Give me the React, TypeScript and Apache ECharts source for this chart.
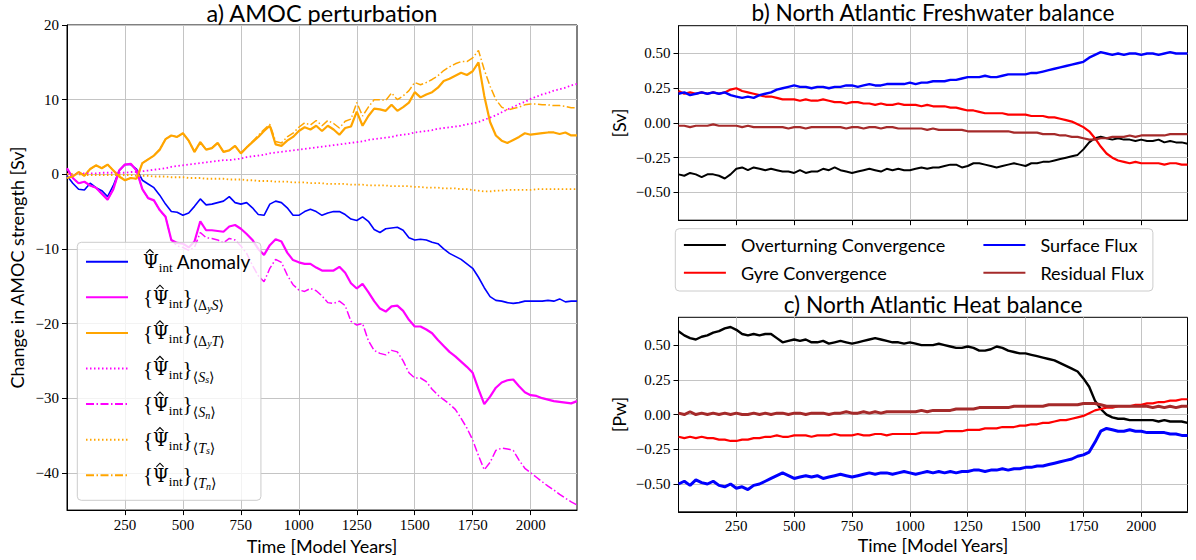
import React, { useEffect, useRef } from 'react';
import * as echarts from 'echarts';

const YEARS = Array.from({ length: 89 }, (_, i) => i * 25);
const X_TICKS = [250, 500, 750, 1000, 1250, 1500, 1750, 2000];
const Y_TICKS_A = [-40, -30, -20, -10, 0, 10, 20];
const Y_TICKS_BC = [-0.5, -0.25, 0, 0.25, 0.5];

// a) AMOC perturbation [Sv]
const A_ANOM = [
  -0.2, -1.2, -2.0, -2.1, -1.2, -1.8, -2.2, -3.0, -1.5, 0.5,
  1.3, 1.3, 0.7, -0.8, -1.3, -1.8, -2.8, -4.0, -5.0, -5.1,
  -5.5, -5.2, -4.3, -3.3, -4.1, -4.0, -3.8, -3.6, -3.0, -3.8,
  -4.0, -3.8, -4.5, -5.4, -5.5, -4.0, -3.6, -3.8, -4.5, -5.5,
  -5.5, -5.0, -4.7, -5.0, -5.5, -5.2, -5.0, -5.0, -5.4, -6.0,
  -6.2, -5.7, -6.3, -7.4, -7.8, -7.3, -7.2, -7.1, -7.5, -8.5,
  -8.8, -8.7, -8.8, -9.1, -9.3, -10.0, -10.6, -11.0, -11.4, -12.0,
  -12.6, -13.8, -15.2, -16.4, -16.9, -17.0, -17.2, -17.3, -17.2, -17.0,
  -17.0, -17.0, -17.0, -16.9, -17.0, -16.7, -17.1, -17.0, -17.0,
];
const A_DYS = [
  0.8, -0.5, -1.2, -1.0, -1.5, -1.8, -2.6, -3.4, -2.0, 0.5,
  1.3, 1.4, 0.5, -2.0, -3.2, -3.5, -4.8, -5.7, -8.8, -9.2,
  -9.3, -9.8, -9.0, -6.3, -7.5, -7.5, -7.6, -7.7, -7.0, -6.8,
  -7.3, -8.0, -8.8, -10.0, -10.8, -9.5, -8.7, -9.0, -10.5, -11.5,
  -11.8, -12.0, -12.0, -12.5, -12.9, -12.9, -12.9, -12.4, -13.2, -14.6,
  -15.3, -14.7, -15.8, -17.0, -18.0, -18.4, -17.7, -17.6, -18.3, -19.5,
  -20.4, -20.4, -20.8, -21.3, -22.2, -23.0, -23.8, -24.4, -25.1, -25.8,
  -26.6, -28.8, -30.8, -29.8, -28.6, -27.9, -27.6, -27.5, -28.4, -29.2,
  -29.6, -29.7, -30.0, -30.2, -30.4, -30.5, -30.6, -30.7, -30.4,
];
const A_DYT = [
  -0.5, -0.3, 0.3, -0.2, 0.7, 1.2, 0.8, 1.3, 0.5, -0.3,
  -0.8, -0.5, -0.6, 1.5, 2.0, 2.5, 3.3, 4.7, 5.2, 5.0,
  5.5, 4.5, 3.0, 4.3, 3.3, 3.5, 4.2, 3.0, 3.2, 3.8,
  2.8, 3.6, 4.3, 5.0, 5.8, 6.5, 4.0, 3.8, 4.5, 5.0,
  5.8, 6.3, 6.0, 6.5, 5.8, 6.5, 6.0, 5.3, 6.2, 6.4,
  8.4, 6.5, 7.8, 8.8, 8.7, 8.5, 9.3, 8.5, 9.0, 9.6,
  11.0, 10.3, 10.7, 11.0, 11.6, 12.5, 12.8, 13.2, 13.6, 13.3,
  13.8, 15.0, 10.5, 7.0, 5.2, 4.5, 4.2, 4.6, 5.0, 5.5,
  5.3, 5.4, 5.5, 5.6, 5.6, 5.4, 5.6, 5.2, 5.2,
];
const A_SS = [
  0.0, 0.0, 0.1, 0.1, 0.1, 0.1, 0.2, 0.2, 0.2, 0.2,
  0.2, 0.3, 0.3, 0.4, 0.5, 0.6, 0.7, 0.8, 1.0, 1.1,
  1.2, 1.3, 1.4, 1.5, 1.6, 1.7, 1.8, 1.9, 1.9, 2.0,
  2.1, 2.3, 2.4, 2.5, 2.6, 2.8, 2.9, 3.0, 3.1, 3.2,
  3.3, 3.4, 3.5, 3.6, 3.7, 3.8, 3.9, 4.0, 4.1, 4.2,
  4.3, 4.4, 4.6, 4.7, 4.8, 4.9, 5.0, 5.2, 5.3, 5.4,
  5.6, 5.7, 5.8, 5.9, 6.1, 6.2, 6.3, 6.4, 6.5, 6.7,
  6.8, 7.0, 7.3, 7.6, 7.9, 8.3, 8.7, 9.0, 9.4, 9.7,
  10.1, 10.4, 10.7, 10.9, 11.2, 11.4, 11.6, 11.9, 12.1,
];
const A_SN = [
  0.8, -0.5, -1.2, -1.0, -1.5, -1.8, -2.6, -3.4, -2.0, 0.5,
  1.3, 1.4, 0.5, -2.0, -3.2, -3.5, -4.8, -5.7, -8.8, -9.6,
  -9.8, -10.2, -9.8, -7.8, -8.5, -8.6, -8.8, -9.2, -8.6, -8.8,
  -9.6, -10.6, -12.2, -13.6, -14.4, -12.6, -11.4, -11.8, -13.5, -14.8,
  -15.5, -15.7, -15.3, -15.6, -16.3, -17.2, -17.3, -17.0, -17.6, -19.7,
  -20.2, -20.0, -22.3, -23.6, -24.0, -24.2, -23.6, -23.8, -25.0, -26.6,
  -27.3, -27.3, -27.8, -28.8, -29.6, -30.2, -30.8, -31.5, -32.7, -34.0,
  -35.6, -37.7, -39.6, -38.6, -37.0, -36.7, -36.8, -37.0, -38.3, -39.4,
  -40.0, -40.6, -41.2, -41.8, -42.3, -42.9, -43.4, -43.9, -44.3,
];
const A_TS = [
  0.0, 0.0, 0.0, -0.1, -0.1, -0.1, -0.1, -0.1, -0.1, -0.1,
  -0.1, -0.1, -0.2, -0.2, -0.2, -0.3, -0.3, -0.3, -0.4, -0.4,
  -0.4, -0.5, -0.5, -0.5, -0.6, -0.6, -0.6, -0.6, -0.7, -0.7,
  -0.7, -0.8, -0.8, -0.9, -0.9, -0.9, -1.0, -1.0, -1.0, -1.1,
  -1.1, -1.1, -1.2, -1.2, -1.2, -1.3, -1.3, -1.3, -1.3, -1.4,
  -1.4, -1.4, -1.5, -1.5, -1.5, -1.5, -1.6, -1.6, -1.6, -1.6,
  -1.7, -1.7, -1.8, -1.8, -1.8, -1.9, -1.9, -1.9, -2.0, -2.0,
  -2.1, -2.2, -2.3, -2.3, -2.2, -2.2, -2.1, -2.1, -2.1, -2.1,
  -2.1, -2.0, -2.0, -2.0, -2.0, -2.0, -2.0, -2.0, -2.0,
];
const A_TN = [
  -0.5, -0.3, 0.3, -0.2, 0.7, 1.2, 0.8, 1.3, 0.5, -0.3,
  -0.8, -0.5, -0.6, 1.5, 2.0, 2.5, 3.3, 4.7, 5.2, 5.0,
  5.5, 4.5, 3.0, 4.3, 3.3, 3.5, 4.2, 3.0, 3.2, 3.8,
  2.8, 3.6, 4.4, 5.2, 6.0, 6.7, 4.4, 4.2, 5.0, 5.5,
  6.3, 6.9, 6.6, 7.2, 6.5, 7.2, 6.8, 6.2, 7.1, 7.4,
  9.6, 7.8, 9.0, 10.0, 10.0, 9.9, 10.9, 10.0, 10.5, 11.2,
  12.3, 12.0, 12.3, 12.7, 13.2, 13.9, 14.4, 14.8, 15.1, 15.1,
  15.6, 16.6, 14.0, 11.8, 10.0, 9.0, 8.6, 8.8, 9.0, 9.3,
  9.4, 9.4, 9.3, 9.3, 9.2, 9.2, 9.1, 8.9, 8.9,
];

// b) North Atlantic Freshwater balance [Sv]
const FW_OVT = [
  -0.37, -0.38, -0.36, -0.37, -0.39, -0.37, -0.37, -0.38, -0.40, -0.37,
  -0.33, -0.32, -0.34, -0.32, -0.33, -0.34, -0.33, -0.34, -0.35, -0.35,
  -0.36, -0.34, -0.36, -0.35, -0.35, -0.33, -0.34, -0.32, -0.34, -0.35,
  -0.36, -0.35, -0.34, -0.33, -0.34, -0.35, -0.33, -0.34, -0.33, -0.34,
  -0.34, -0.33, -0.32, -0.33, -0.32, -0.32, -0.31, -0.30, -0.30, -0.32,
  -0.31, -0.29, -0.29, -0.30, -0.31, -0.32, -0.31, -0.30, -0.29, -0.30,
  -0.31, -0.29, -0.29, -0.28, -0.28, -0.27, -0.26, -0.25, -0.24, -0.23,
  -0.19, -0.14, -0.11, -0.10, -0.11, -0.12, -0.11, -0.12, -0.12, -0.13,
  -0.12, -0.13, -0.13, -0.12, -0.14, -0.13, -0.14, -0.14, -0.15,
];
const FW_GYRE = [
  0.23, 0.21, 0.22, 0.21, 0.22, 0.21, 0.22, 0.21, 0.22, 0.24,
  0.25, 0.23, 0.22, 0.21, 0.20, 0.19, 0.19, 0.18, 0.17, 0.17,
  0.17, 0.16, 0.17, 0.16, 0.16, 0.17, 0.16, 0.15, 0.15, 0.14,
  0.15, 0.15, 0.14, 0.14, 0.13, 0.14, 0.13, 0.13, 0.14, 0.13,
  0.13, 0.13, 0.12, 0.13, 0.12, 0.12, 0.12, 0.11, 0.11, 0.10,
  0.09, 0.09, 0.08, 0.07, 0.07, 0.07, 0.07, 0.06, 0.06, 0.06,
  0.06, 0.05, 0.05, 0.05, 0.04, 0.04, 0.03, 0.02, 0.01, -0.01,
  -0.03, -0.06, -0.11, -0.17, -0.22, -0.25, -0.27, -0.28, -0.29, -0.28,
  -0.29, -0.29, -0.29, -0.29, -0.30, -0.29, -0.29, -0.30, -0.30,
];
const FW_SURF = [
  0.21, 0.22, 0.20, 0.21, 0.22, 0.21, 0.22, 0.21, 0.22, 0.20,
  0.19, 0.18, 0.19, 0.18, 0.20, 0.21, 0.22, 0.24, 0.25, 0.26,
  0.27, 0.26, 0.26, 0.25, 0.26, 0.26, 0.25, 0.26, 0.26, 0.27,
  0.27, 0.26, 0.27, 0.28, 0.27, 0.27, 0.28, 0.28, 0.28, 0.28,
  0.29, 0.28, 0.29, 0.29, 0.30, 0.30, 0.30, 0.31, 0.31, 0.32,
  0.33, 0.33, 0.33, 0.34, 0.33, 0.33, 0.34, 0.35, 0.35, 0.35,
  0.35, 0.36, 0.36, 0.37, 0.38, 0.39, 0.40, 0.41, 0.42, 0.43,
  0.44, 0.47, 0.49, 0.51, 0.50, 0.49, 0.50, 0.49, 0.50, 0.50,
  0.49, 0.50, 0.50, 0.49, 0.50, 0.51, 0.50, 0.50, 0.50,
];
const FW_RES = [
  -0.02, -0.02, -0.03, -0.02, -0.02, -0.02, -0.01, -0.02, -0.02, -0.02,
  -0.02, -0.03, -0.02, -0.03, -0.03, -0.03, -0.03, -0.03, -0.03, -0.04,
  -0.03, -0.03, -0.04, -0.03, -0.03, -0.03, -0.03, -0.03, -0.03, -0.04,
  -0.03, -0.03, -0.04, -0.03, -0.03, -0.04, -0.03, -0.03, -0.04, -0.04,
  -0.04, -0.04, -0.04, -0.05, -0.04, -0.05, -0.05, -0.05, -0.05, -0.05,
  -0.06, -0.06, -0.06, -0.06, -0.06, -0.06, -0.06, -0.06, -0.07, -0.07,
  -0.07, -0.07, -0.07, -0.08, -0.08, -0.08, -0.09, -0.09, -0.10, -0.10,
  -0.11, -0.12, -0.12, -0.11, -0.11, -0.10, -0.10, -0.10, -0.09, -0.10,
  -0.09, -0.09, -0.09, -0.09, -0.09, -0.08, -0.08, -0.08, -0.08,
];

// c) North Atlantic Heat balance [Pw]
const HT_OVT = [
  0.60, 0.57, 0.55, 0.54, 0.56, 0.57, 0.59, 0.60, 0.62, 0.63,
  0.61, 0.58, 0.57, 0.58, 0.57, 0.58, 0.58, 0.55, 0.52, 0.53,
  0.54, 0.53, 0.54, 0.52, 0.52, 0.53, 0.51, 0.52, 0.53, 0.52,
  0.51, 0.52, 0.53, 0.54, 0.55, 0.54, 0.53, 0.52, 0.52, 0.51,
  0.52, 0.51, 0.50, 0.50, 0.50, 0.51, 0.50, 0.49, 0.48, 0.48,
  0.49, 0.48, 0.46, 0.46, 0.47, 0.49, 0.48, 0.46, 0.45, 0.44,
  0.44, 0.43, 0.42, 0.41, 0.40, 0.39, 0.37, 0.35, 0.33, 0.31,
  0.26, 0.20, 0.10, 0.04, 0.00, -0.02, -0.03, -0.03, -0.04, -0.04,
  -0.04, -0.04, -0.04, -0.05, -0.04, -0.05, -0.05, -0.05, -0.06,
];
const HT_GYRE = [
  -0.16, -0.17, -0.16, -0.17, -0.16, -0.17, -0.17, -0.18, -0.18, -0.19,
  -0.19, -0.18, -0.18, -0.17, -0.17, -0.16, -0.16, -0.15, -0.16, -0.16,
  -0.15, -0.15, -0.15, -0.16, -0.15, -0.15, -0.15, -0.14, -0.15, -0.15,
  -0.15, -0.14, -0.15, -0.15, -0.14, -0.14, -0.15, -0.14, -0.14, -0.14,
  -0.14, -0.14, -0.13, -0.13, -0.13, -0.13, -0.12, -0.12, -0.12, -0.12,
  -0.11, -0.11, -0.11, -0.10, -0.10, -0.10, -0.09, -0.09, -0.09, -0.08,
  -0.08, -0.07, -0.07, -0.06, -0.06, -0.05, -0.04, -0.04, -0.03, -0.02,
  -0.01, 0.01, 0.03, 0.04, 0.05, 0.05, 0.06, 0.06, 0.06, 0.07,
  0.07, 0.08, 0.08, 0.09, 0.09, 0.10, 0.10, 0.11, 0.11,
];
const HT_SURF = [
  -0.50, -0.48, -0.51, -0.47, -0.49, -0.50, -0.48, -0.51, -0.52, -0.50,
  -0.53, -0.52, -0.54, -0.51, -0.50, -0.48, -0.46, -0.44, -0.42, -0.44,
  -0.46, -0.45, -0.44, -0.45, -0.44, -0.46, -0.45, -0.44, -0.43, -0.44,
  -0.45, -0.44, -0.43, -0.42, -0.43, -0.42, -0.42, -0.43, -0.42, -0.41,
  -0.42, -0.43, -0.42, -0.41, -0.42, -0.41, -0.42, -0.41, -0.42, -0.41,
  -0.41, -0.40, -0.40, -0.41, -0.40, -0.40, -0.39, -0.40, -0.39, -0.39,
  -0.38, -0.38, -0.37, -0.37, -0.36, -0.35, -0.34, -0.33, -0.32, -0.30,
  -0.29, -0.27, -0.20, -0.12, -0.10, -0.11, -0.12, -0.12, -0.11, -0.12,
  -0.12, -0.13, -0.13, -0.13, -0.13, -0.14, -0.14, -0.15, -0.15,
];
const HT_RES = [
  0.01, 0.00, 0.02, 0.00, 0.01, 0.00, 0.01, 0.00, 0.01, 0.00,
  0.01, 0.00, 0.00, 0.01, 0.00, 0.01, 0.00, 0.01, 0.01, 0.00,
  0.01, 0.01, 0.00, 0.01, 0.01, 0.01, 0.00, 0.01, 0.01, 0.02,
  0.01, 0.01, 0.02, 0.01, 0.02, 0.01, 0.02, 0.02, 0.02, 0.02,
  0.02, 0.02, 0.03, 0.02, 0.03, 0.03, 0.03, 0.03, 0.04, 0.04,
  0.04, 0.04, 0.05, 0.05, 0.05, 0.05, 0.05, 0.05, 0.06, 0.06,
  0.06, 0.06, 0.06, 0.06, 0.07, 0.07, 0.07, 0.07, 0.07, 0.07,
  0.08, 0.08, 0.08, 0.07, 0.06, 0.06, 0.06, 0.06, 0.06, 0.06,
  0.06, 0.06, 0.05, 0.06, 0.05, 0.06, 0.05, 0.06, 0.06,
];

// ---------- styling ----------
const SERIF = '"Liberation Serif", "DejaVu Serif", serif';
const MATH = '"DejaVu Serif", "Liberation Serif", serif';
const SANS = 'Lato, "Open Sans", sans-serif';
const GRID_C = '#c4c4c4';
const BLUE = '#0000ff';
const MAGENTA = '#ff00ff';
const ORANGE = '#ffa500';
const RED = '#ff0000';
const BROWN = '#a52a2a';
const DOT = [1.5, 2.5];
const DASHDOT = [8, 2.5, 1.5, 2.5];

const N_ANOM = 'Psi_int Anomaly';
const N_DYS = 'Psi_int <Delta_y S>';
const N_DYT = 'Psi_int <Delta_y T>';
const N_SS = 'Psi_int <S_s>';
const N_SN = 'Psi_int <S_n>';
const N_TS = 'Psi_int <T_s>';
const N_TN = 'Psi_int <T_n>';
const LEGEND_A_NAMES = [N_ANOM, N_DYS, N_DYT, N_SS, N_SN, N_TS, N_TN];

const PSI = '{m|\u03A8}{s|int}';
const LEGEND_A_TEXT: Record<string, string> = {
  [N_ANOM]: PSI + '{t| Anomaly}',
  [N_DYS]: '{' + PSI + '}{p|\u27E8\u0394}{q|y}{pi|S}{p|\u27E9}',
  [N_DYT]: '{' + PSI + '}{p|\u27E8\u0394}{q|y}{pi|T}{p|\u27E9}',
  [N_SS]: '{' + PSI + '}{p|\u27E8}{pi|S}{q|s}{p|\u27E9}',
  [N_SN]: '{' + PSI + '}{p|\u27E8}{pi|S}{q|n}{p|\u27E9}',
  [N_TS]: '{' + PSI + '}{p|\u27E8}{pi|T}{q|s}{p|\u27E9}',
  [N_TN]: '{' + PSI + '}{p|\u27E8}{pi|T}{q|n}{p|\u27E9}',
};

// legend a layout
const LA_LEFT = 77.3, LA_TOP = 242.3, LA_PAD = [3.4, 10, 9, 7.7], LA_GAP = 3.6, LA_ROW = 32;

const fmt = (d: number) => (v: number) => {
  const s = Math.abs(v).toFixed(d);
  return (v < 0 && Number(s) !== 0 ? '\u2212' : '') + s;
};

function xAxis(gridIndex: number, labels: boolean) {
  return {
    type: 'value', gridIndex, min: 0, max: 2200,
    axisLine: { show: true, onZero: false, lineStyle: { color: '#000', width: 1 } },
    axisTick: { show: true, inside: false, length: 5, customValues: X_TICKS, lineStyle: { color: '#000', width: 1 } },
    axisLabel: { show: labels, customValues: X_TICKS, color: '#000', fontFamily: SERIF, fontSize: 15, margin: 7, formatter: (v: number) => String(v) },
    splitLine: { show: true, lineStyle: { color: GRID_C, width: 1 } },
    name: labels ? 'Time [Model Years]' : '',
    nameLocation: 'middle', nameGap: 24,
    nameTextStyle: { fontFamily: SANS, fontSize: 18, color: '#000' },
  };
}

function yAxis(gridIndex: number, min: number, max: number, ticks: number[], dec: number, name: string, gap: number) {
  return {
    type: 'value', gridIndex, min, max,
    axisLine: { show: true, lineStyle: { color: '#000', width: 1 } },
    axisTick: { show: true, inside: false, length: 5, customValues: ticks, lineStyle: { color: '#000', width: 1 } },
    axisLabel: { customValues: ticks, color: '#000', fontFamily: SERIF, fontSize: 15, margin: 8, formatter: fmt(dec) },
    splitLine: { show: true, lineStyle: { color: GRID_C, width: 1 } },
    name, nameLocation: 'middle', nameGap: gap, nameRotate: 90,
    nameTextStyle: { fontFamily: SANS, fontSize: 18, color: '#000' },
  };
}

function line(name: string, vals: number[], color: string, gi: number, width = 1.5, type: any = 'solid') {
  return {
    type: 'line', name, xAxisIndex: gi, yAxisIndex: gi,
    data: YEARS.map((y, i) => [y, vals[i]]),
    symbol: 'none', showSymbol: false, silent: true, animation: false,
    lineStyle: { color, width, type },
    itemStyle: { color },
    emphasis: { disabled: true },
  };
}

export default function App() {
  const ref = useRef<HTMLDivElement>(null);
  useEffect(() => {
    if (!ref.current) return;
    const chart = echarts.init(ref.current, null, { renderer: 'svg' });

    // hats over the Psi glyphs in legend a, drawn as small strokes (not text)
    let wb = 10.1, wp = 14.4;
    const ctx = document.createElement('canvas').getContext('2d');
    if (ctx) {
      ctx.font = '21px "Liberation Serif", "DejaVu Serif", serif';
      wb = ctx.measureText('{').width;
      ctx.font = '18px "DejaVu Serif", "Liberation Serif", serif';
      wp = ctx.measureText('\u03A8').width;
    }
    const textX0 = LA_LEFT + LA_PAD[3] + 42 + 5 + 10;
    const hats = LEGEND_A_NAMES.map((_, i) => {
      const cx = textX0 + (i === 0 ? 0 : wb) + wp / 2;
      const cy = LA_TOP + LA_PAD[0] + LA_ROW / 2 + i * (LA_ROW + LA_GAP) - 10.5;
      return {
        type: 'polyline', z: 100, silent: true,
        shape: { points: [[cx - 3.6, cy + 2], [cx, cy - 1.6], [cx + 3.6, cy + 2]] },
        style: { stroke: '#000', lineWidth: 1.1, fill: null },
      };
    });

    const option: any = {
      animation: false,
      backgroundColor: '#fff',
      grid: [
        { left: 67, top: 25, width: 510, height: 487, show: true, borderColor: '#000', borderWidth: 1, backgroundColor: 'transparent' },
        { left: 678.5, top: 25.7, width: 509, height: 194.5, show: true, borderColor: '#000', borderWidth: 1, backgroundColor: 'transparent' },
        { left: 678.5, top: 317.3, width: 509, height: 194.5, show: true, borderColor: '#000', borderWidth: 1, backgroundColor: 'transparent' },
      ],
      xAxis: [xAxis(0, true), xAxis(1, false), xAxis(2, true)],
      yAxis: [
        yAxis(0, -45, 20, Y_TICKS_A, 0, 'Change in AMOC strength [Sv]', 41),
        yAxis(1, -0.7, 0.7, Y_TICKS_BC, 2, '[Sv]', 51),
        yAxis(2, -0.7, 0.7, Y_TICKS_BC, 2, '[Pw]', 51),
      ],
      legend: [
        {
          data: LEGEND_A_NAMES,
          orient: 'vertical', left: LA_LEFT, top: LA_TOP,
          padding: LA_PAD, itemGap: LA_GAP, itemWidth: 42, itemHeight: 14,
          backgroundColor: 'rgba(255,255,255,0.8)', borderColor: '#cccccc', borderWidth: 1, borderRadius: 4,
          selectedMode: false,
          itemStyle: { opacity: 0 },
          formatter: (n: string) => LEGEND_A_TEXT[n] || n,
          textStyle: {
            fontFamily: SERIF, fontSize: 21, lineHeight: LA_ROW, color: '#000', padding: [0, 0, 0, 10],
            rich: {
              m: { fontFamily: MATH, fontSize: 18, lineHeight: LA_ROW, color: '#000' },
              s: { fontFamily: SERIF, fontSize: 13, lineHeight: 13, padding: [12, 0, 0, 0], color: '#000' },
              p: { fontFamily: SERIF, fontSize: 14, lineHeight: 14, padding: [17, 0, 0, 0], color: '#000' },
              pi: { fontFamily: SERIF, fontStyle: 'italic', fontSize: 14, lineHeight: 14, padding: [17, 0, 0, 0], color: '#000' },
              q: { fontFamily: SERIF, fontStyle: 'italic', fontSize: 10, lineHeight: 10, padding: [22, 0, 0, 0], color: '#000' },
              t: { fontFamily: SANS, fontSize: 19, lineHeight: LA_ROW, color: '#000' },
            },
          },
        },
        {
          data: ['Overturning Convergence', 'Surface Flux', 'Gyre Convergence', 'Residual Flux'],
          orient: 'horizontal', left: 675.3, top: 228.7, width: 500,
          padding: [7.3, 9, 9.3, 7.6], itemGap: 9.7, itemWidth: 42, itemHeight: 14,
          backgroundColor: 'rgba(255,255,255,0.8)', borderColor: '#cccccc', borderWidth: 1, borderRadius: 4,
          selectedMode: false,
          itemStyle: { opacity: 0 },
          formatter: (n: string) => (n === 'Overturning Convergence' || n === 'Gyre Convergence' ? '{w|' + n + '}' : '{n|' + n + '}'),
          textStyle: {
            fontFamily: SANS, fontSize: 18, lineHeight: 18, color: '#000', padding: [0, 0, 0, 10],
            rich: {
              w: { fontFamily: SANS, fontSize: 18, lineHeight: 18, width: 231.8, color: '#000' },
              n: { fontFamily: SANS, fontSize: 18, lineHeight: 18, color: '#000' },
            },
          },
        },
      ],
      graphic: [
        { type: 'text', x: 322, y: 12.5, style: { text: 'a) AMOC perturbation', font: '23.5px ' + SANS, fill: '#000', textAlign: 'center', textVerticalAlign: 'middle' } },
        { type: 'text', x: 933, y: 12.5, style: { text: 'b) North Atlantic Freshwater balance', font: '22.7px ' + SANS, fill: '#000', textAlign: 'center', textVerticalAlign: 'middle' } },
        { type: 'text', x: 933, y: 304, style: { text: 'c) North Atlantic Heat balance', font: '22.7px ' + SANS, fill: '#000', textAlign: 'center', textVerticalAlign: 'middle' } },
        ...hats,
      ],
      series: [
        line(N_ANOM, A_ANOM, BLUE, 0, 1.6),
        line(N_DYS, A_DYS, MAGENTA, 0, 2.2),
        line(N_DYT, A_DYT, ORANGE, 0, 2.2),
        line(N_SS, A_SS, MAGENTA, 0, 1.8, DOT),
        line(N_SN, A_SN, MAGENTA, 0, 1.5, DASHDOT),
        line(N_TS, A_TS, ORANGE, 0, 1.8, DOT),
        line(N_TN, A_TN, ORANGE, 0, 1.5, DASHDOT),
        line('Overturning Convergence', FW_OVT, '#000000', 1, 2),
        line('Gyre Convergence', FW_GYRE, RED, 1, 2.2),
        line('Surface Flux', FW_SURF, BLUE, 1, 2.4),
        line('Residual Flux', FW_RES, BROWN, 1, 2.2),
        line('Overturning Convergence', HT_OVT, '#000000', 2, 2.4),
        line('Gyre Convergence', HT_GYRE, RED, 2, 2.2),
        line('Surface Flux', HT_SURF, BLUE, 2, 3),
        line('Residual Flux', HT_RES, BROWN, 2, 3),
      ],
    };
    chart.setOption(option);
    return () => chart.dispose();
  }, []);
  return <div ref={ref} style={{ position: 'fixed', left: 0, top: 0, width: 1196, height: 560, background: '#fff' }} />;
}
